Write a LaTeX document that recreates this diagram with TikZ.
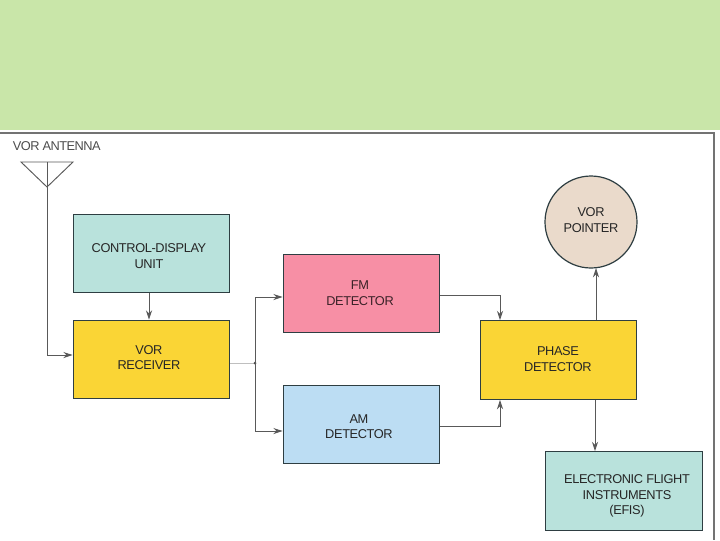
\documentclass[tikz,border=0pt]{standalone}
\usepackage{fontspec}
\setmainfont{Liberation Sans}
\usetikzlibrary{arrows.meta}
\definecolor{band}{HTML}{C9E6A9}
\definecolor{teal}{HTML}{B9E2DC}
\definecolor{yel}{HTML}{FAD535}
\definecolor{pink}{HTML}{F78FA5}
\definecolor{sky}{HTML}{BCDDF3}
\definecolor{tan}{HTML}{EADACB}
\definecolor{edge}{HTML}{2E3E42}
\newcommand{\bt}[3]{\raisebox{#2}[0pt][0pt]{\makebox[0pt][c]{\kern#1\begin{tabular}{@{}c@{}}#3\end{tabular}}}}
\tikzset{
  x=0.75pt,y=-0.75pt,
  blk/.style={draw=edge,line width=0.9pt,minimum width=117.5pt,minimum height=59pt,inner sep=0pt,
    font=\fontsize{9.6pt}{11.8pt}\selectfont\addfontfeature{LetterSpace=-3},text=black!85},
  wire/.style={draw=black!65,line width=0.7pt},
  arr/.style={wire,-{Stealth[length=7pt,width=4.6pt]}},
}
\begin{document}
\begin{tikzpicture}
\useasboundingbox (0,0) rectangle (720,540);
\fill[band] (0,0) rectangle (720,130);
\draw[black!55,line width=1pt] (0,133) -- (714,133) -- (714,540);
\node[anchor=west,inner sep=0pt,font=\fontsize{9.6pt}{11pt}\selectfont\addfontfeature{LetterSpace=-4},text=black!70] (ant) at (12.5,146) {VOR ANTENNA};
\node[blk,fill=teal] (cdu) at (151.5,253.5) {\bt{-3.8pt}{-5.2pt}{CONTROL-DISPLAY\\UNIT}};
\node[blk,fill=yel] (rx) at (151.5,359.5) {\bt{-3.8pt}{-2.1pt}{VOR\\RECEIVER}};
\node[blk,fill=pink,text=black!60!pink!60!black] (fm) at (361.5,293.5) {\bt{-2.2pt}{-2.9pt}{FM\\DETECTOR}};
\node[blk,fill=sky] (am) at (361.5,424.5) {\bt{-3.8pt}{-5.1pt}{AM\\DETECTOR}};
\node[blk,fill=yel] (ph) at (558.5,360) {\bt{-0.8pt}{-2.6pt}{PHASE\\DETECTOR}};
\node[blk,fill=teal] (efis) at (624,491) {\bt{4.5pt}{-6.3pt}{ELECTRONIC FLIGHT\\INSTRUMENTS\\(EFIS)}};
\node[circle,draw=edge,line width=0.9pt,fill=tan,minimum size=69pt,inner sep=0pt,
  font=\fontsize{9.6pt}{11.8pt}\selectfont\addfontfeature{LetterSpace=-3},text=black!85] (ptr) at (591,222) {\bt{0pt}{-1.8pt}{VOR\\POINTER}};
\coordinate (t1) at (21,162);
\coordinate (t2) at (73,162);
\coordinate (tip) at (47,187);
\coordinate (top) at (47,162);
\coordinate (j) at (255,363);
\draw[wire] (t1) -- (t2) -- (tip) -- cycle;
\draw[arr] (top) |- (rx.west |- 0,355);
\draw[arr] (cdu.south -| 149,0) -- (rx.north -| 149,0);
\draw[black!25,line width=0.7pt] (rx.east |- j) -- (j);
\fill[black!70] (j) circle (1.5);
\draw[arr] (j) |- (fm.west |- 0,297);
\draw[arr] (j) |- (am.west |- 0,431);
\draw[arr] (fm.east |- 0,295) -| (ph.north -| 500,0);
\draw[arr] (am.east |- 0,426) -| (ph.south -| 500,0);
\draw[arr] (ph.north -| 596,0) -- (596,268);
\draw[arr] (ph.south -| 595,0) -- (efis.north -| 595,0);
\end{tikzpicture}
\end{document}
